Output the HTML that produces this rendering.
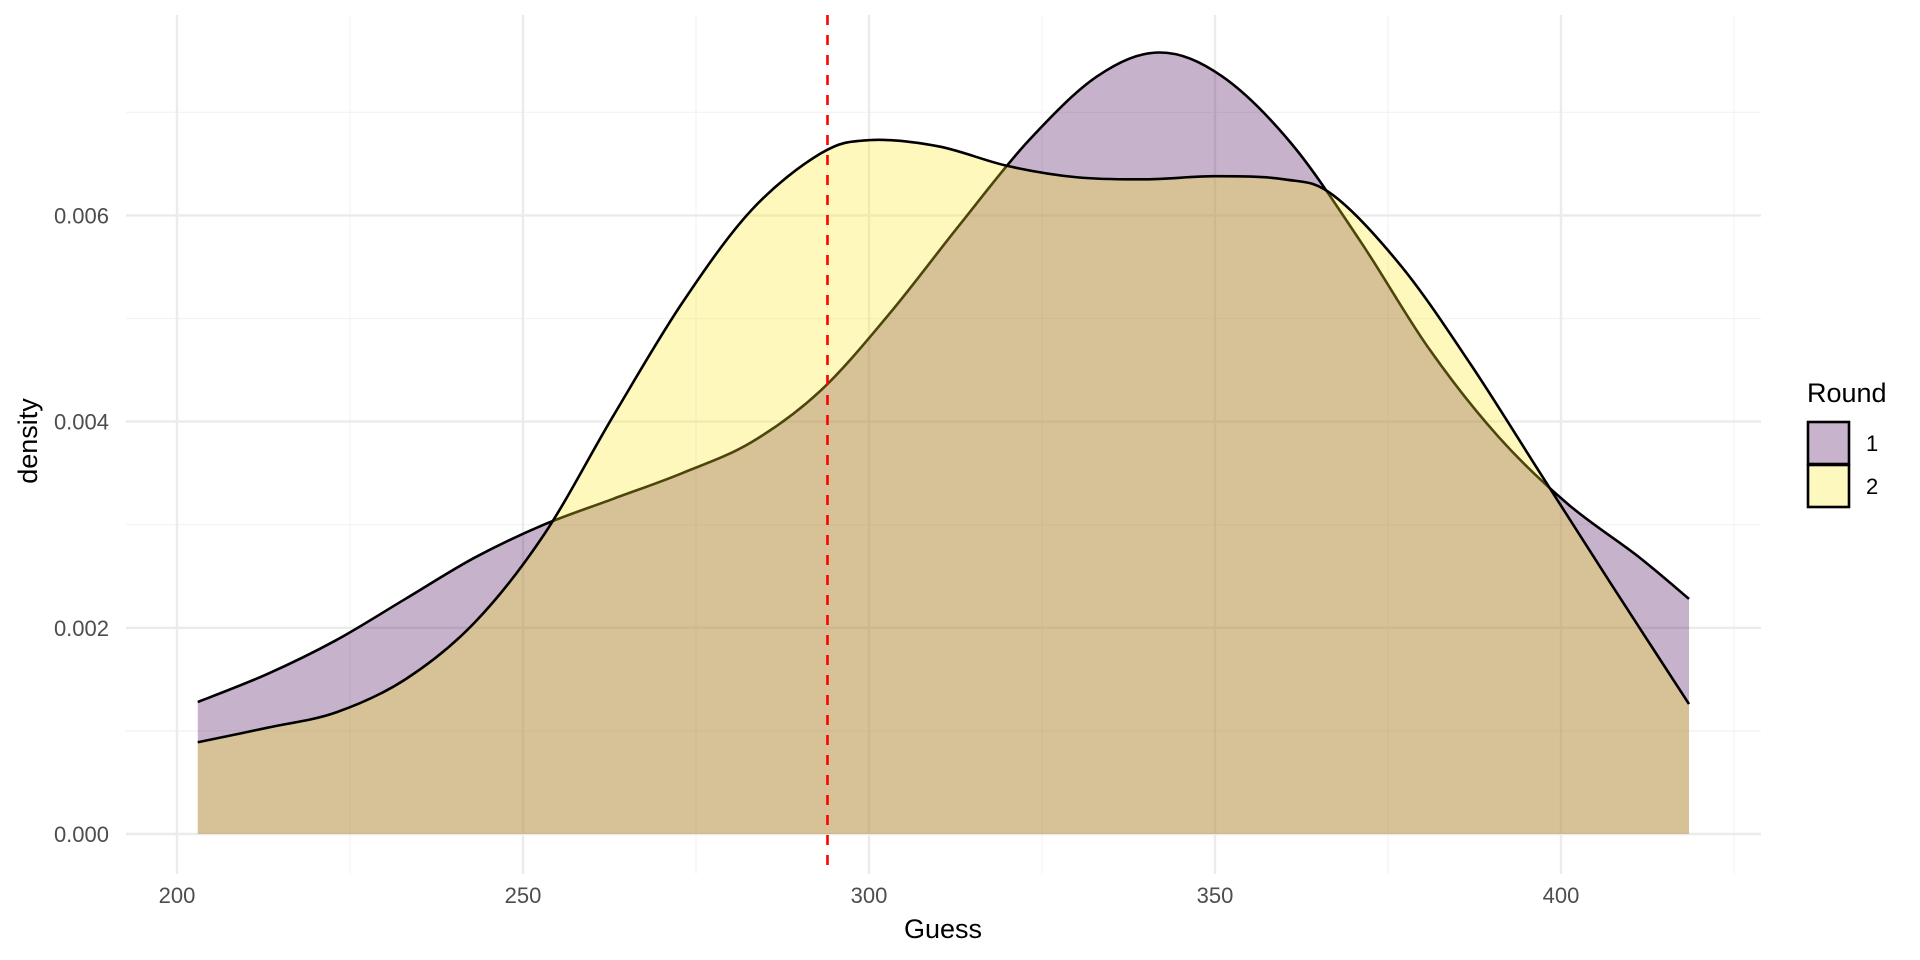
<!DOCTYPE html>
<html><head><meta charset="utf-8"><style>
body{margin:0;background:#fff}
svg{display:block;font-family:"Liberation Sans",sans-serif}
</style></head><body>
<svg id="c" width="1920" height="960"></svg>
<script>
const xTicks=[200,250,300,350,400];
const xMinor=[225,275,325,375,425];
const yTicks=[0,0.002,0.004,0.006];
const yTickLabels=["0.000","0.002","0.004","0.006"];
const yMinor=[0.001,0.003,0.005,0.007];
const guessX1=[203,213,223,233,243,253,263,273,283,293,303,313,323,333,342,351,361,371,381,391,401,411,418.5];
const round1=[0.00128,0.00155,0.00188,0.00228,0.00268,0.00300,0.00325,0.00350,0.00380,0.00430,0.00505,0.00590,0.00672,0.00735,0.00758,0.00735,0.00670,0.00575,0.00470,0.00385,0.00320,0.00270,0.00228];
const guessX2=[203,213,223,233,243,253,263,273,283,293,300,310,320,330,340,350,360,367,377,387,397,407,418.5];
const round2=[0.00089,0.00103,0.00118,0.00150,0.00205,0.00290,0.00405,0.00515,0.00605,0.00660,0.00673,0.00667,0.00648,0.00637,0.00635,0.00638,0.00635,0.00620,0.00550,0.00455,0.00350,0.00245,0.00126];
const refLine=294;
const NS="http://www.w3.org/2000/svg";
const svg=document.getElementById('c');
const X=v=>177+(v-200)*6.92;
const Y=v=>834-v*103100;
function el(t,a,p){const e=document.createElementNS(NS,t);for(const k in a)e.setAttribute(k,a[k]);(p||svg).appendChild(e);return e;}
const L=126,R=1761,T=15,B=874;
xMinor.forEach(v=>{const e=el('line',{x1:X(v),x2:X(v),y1:T,y2:B,stroke:'#f2f2f2','stroke-width':1.2});

});
yMinor.forEach(v=>{const e=el('line',{x1:L,x2:R,y1:Y(v),y2:Y(v),stroke:'#f2f2f2','stroke-width':1.2});

});
xTicks.forEach(v=>{const e=el('line',{x1:X(v),x2:X(v),y1:T,y2:B,stroke:'#ebebeb','stroke-width':2.4});


const t=el('text',{x:X(v),y:903,'text-anchor':'middle','font-size':22,fill:'#4d4d4d'});t.textContent=v;

});
yTicks.forEach((v,i)=>{const e=el('line',{x1:L,x2:R,y1:Y(v),y2:Y(v),stroke:'#ebebeb','stroke-width':2.4});


const t=el('text',{x:109,y:Y(v)+8,'text-anchor':'end','font-size':22,fill:'#4d4d4d'});t.textContent=yTickLabels[i];

});
function smooth(xs,ys){const p=xs.map((x,i)=>[X(x),Y(ys[i])]);let d='M'+p[0][0]+','+p[0][1];
for(let i=0;i<p.length-1;i++){const p0=p[Math.max(0,i-1)],p1=p[i],p2=p[i+1],p3=p[Math.min(p.length-1,i+2)];
d+=' C'+(p1[0]+(p2[0]-p0[0])/6)+','+(p1[1]+(p2[1]-p0[1])/6)+' '+(p2[0]-(p3[0]-p1[0])/6)+','+(p2[1]-(p3[1]-p1[1])/6)+' '+p2[0]+','+p2[1];}
return d;}
[[guessX1,round1,'#440154','round-1'],[guessX2,round2,'#FDE725','round-2']].forEach(([xs,s,c,n])=>{
const line=smooth(xs,s);
const x0=X(xs[0]),x1=X(xs[xs.length-1]);
const f=el('path',{d:line+' L'+x1+','+Y(0)+' L'+x0+','+Y(0)+'Z',fill:c,'fill-opacity':0.3,stroke:'none'});


const l=el('path',{d:line,fill:'none',stroke:'#000','stroke-width':2.6});

});
const r=el('line',{x1:X(refLine),x2:X(refLine),y1:T,y2:B,stroke:'#ff0000','stroke-width':2.6,'stroke-dasharray':'10,10'});


let t=el('text',{x:943,y:938,'text-anchor':'middle','font-size':27,fill:'#000'});t.textContent='Guess';


t=el('text',{x:0,y:0,'text-anchor':'middle','font-size':27,fill:'#000',transform:'translate(37,441) rotate(-90)'});t.textContent='density';


t=el('text',{x:1807,y:402,'font-size':27,fill:'#000'});t.textContent='Round';


[['#c7b3cc','1',422],['#fdf8be','2',465]].forEach(([c,lab,y])=>{
const b=el('rect',{x:1808,y:y,width:41,height:42,fill:c,stroke:'#000','stroke-width':2.6});


const tt=el('text',{x:1866,y:y+29,'font-size':22,fill:'#000'});tt.textContent=lab;

});
</script>
</body></html>
